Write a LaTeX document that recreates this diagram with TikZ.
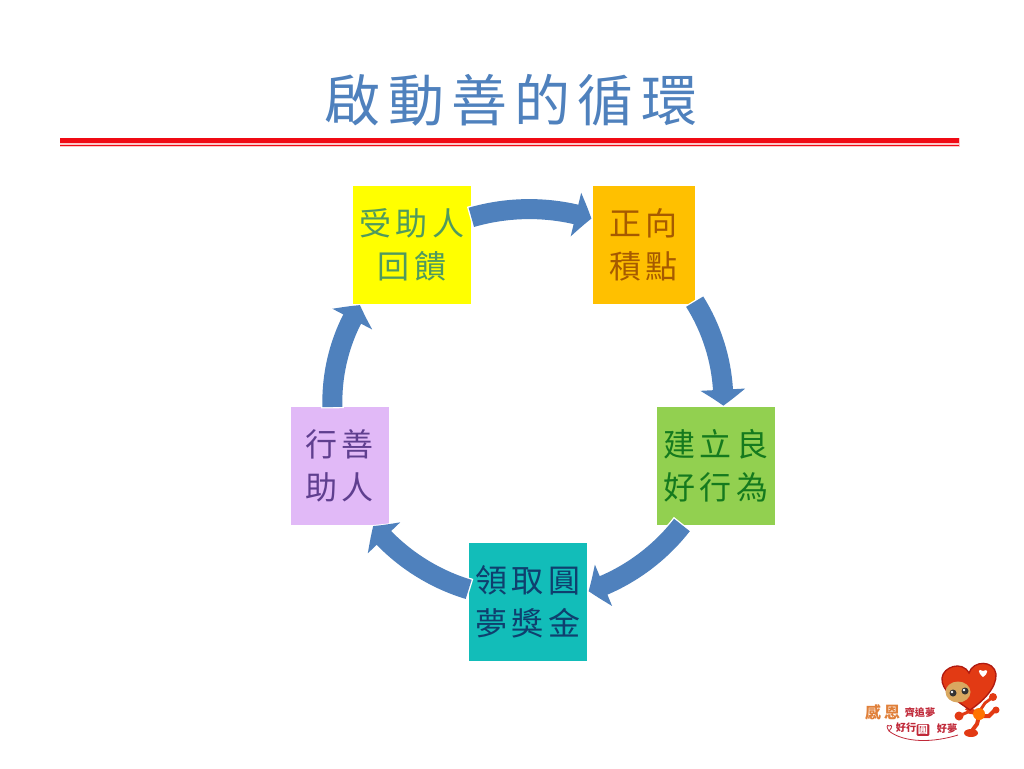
\documentclass[tikz,border=0pt]{standalone}
\usepackage{fontspec}
\usetikzlibrary{positioning,arrows.meta,bending}
\newfontfamily\cjkfont[LetterSpace=13]{Noto Sans CJK TC}
\newfontfamily\logofont{Noto Sans CJK TC}

\definecolor{titleblue}{HTML}{4F81BD}
\definecolor{ruleRed}{HTML}{F00A14}
\definecolor{rulePale}{HTML}{FBC8C8}
\definecolor{cardyellow}{HTML}{FFFF00}
\definecolor{cardorange}{HTML}{FFC000}
\definecolor{cardgreen}{HTML}{92D050}
\definecolor{cardteal}{HTML}{12BDB9}
\definecolor{cardpurple}{HTML}{E1B9F7}
\definecolor{inkyellow}{HTML}{4F9A5E}
\definecolor{inkorange}{HTML}{A65A00}
\definecolor{inkgreen}{HTML}{157A1E}
\definecolor{inkteal}{HTML}{0F3F6E}
\definecolor{inkpurple}{HTML}{5F3F8F}
\definecolor{heartred}{HTML}{E23A14}
\definecolor{heartdark}{HTML}{B01A10}
\definecolor{facetan}{HTML}{D9A860}
\definecolor{logoorange}{HTML}{E0803A}
\definecolor{logored}{HTML}{C02838}

\tikzset{
  card/.style={minimum width=89pt, minimum height=88.5pt, inner sep=0pt, outer sep=0pt, align=center,
    font=\cjkfont\fontsize{24}{32.5}\selectfont},
  flow/.style={draw=titleblue, line width=15pt, shorten >=1pt, bend left=17, looseness=0.87,
    -{Triangle[length=12pt,width=33pt,bend]},
    preaction={draw=white, line width=17pt, shorten >=0pt, shorten <=-1pt,
      -{Triangle[length=14pt,width=37pt,bend]}}},
  logotext/.style={inner sep=0pt, text=logored, font=\logofont\bfseries\fontsize{7.6}{9}\selectfont},
}

\begin{document}
\begin{tikzpicture}[x=0.75pt,y=-0.75pt]
  \useasboundingbox (0,0) rectangle (1024,768);

      % Title and rule
      \node[text=titleblue, inner sep=0pt, font=\cjkfont\fontsize{42}{42}\selectfont] (title) at (511,100) {啟動善的循環};
      \fill[rulePale] (60,137.5) rectangle (959.5,146.5);
      \fill[ruleRed] (60,138.3) rectangle (959,143.3);
      \fill[ruleRed] (60,144.6) rectangle (959,146);

      % Define nodes
      \node[card, fill=cardyellow, text=inkyellow]                                    (recv) at (412,245) {受助人\\回饋};
      \node[card, fill=cardorange, text=inkorange, minimum width=76.5pt, right=91pt of recv]  (points) {正向\\積點};
      \node[card, fill=cardgreen, text=inkgreen, below right=77.25pt and -28.5pt of points]   (habit) {建立良\\好行為};
      \node[card, fill=cardteal, text=inkteal, below left=13.5pt and 52pt of habit]           (claim) {領取圓\\夢獎金};
      \node[card, fill=cardpurple, text=inkpurple, minimum width=73.5pt, above left=13.5pt and 60pt of claim] (help) {行善\\助人};

      % Connect the nodes
      \draw[flow] (recv.25) to (points.153);
      \draw[flow] (points.-48) to (habit.83);
      \draw[flow] (habit.240) to (claim.10);
      \draw[flow] (claim.168) to (help.-61);
      \draw[flow] (help.97) to (recv.229);

      % Logo, mascot
      \draw[heartred, line width=3pt] (966,708) -- (979,714);
      \draw[heartred, line width=2.2pt] (979,712) -- (985,703) -- (993,697);
      \draw[heartred, line width=2.2pt] (979,714) -- (968,712) -- (959,716);
      \draw[heartred, line width=3pt] (981,716) -- (989,716) -- (995,710);
      \draw[heartred, line width=3pt] (979,716) -- (977,724) -- (971,732);
      \fill[heartred, draw=heartdark, line width=1pt] (970,710) .. controls (955,700) and (941,690) .. (942,678)
        .. controls (943,667) and (962,660) .. (969,673) .. controls (973,660) and (994,660) .. (996,674)
        .. controls (997,688) and (982,702) .. (970,710) -- cycle;
      \fill[orange!90!red] (979,714) circle (6);
      \fill[heartred] (993,697) circle (4);
      \fill[heartred] (959,716) circle (4.5);
      \fill[heartred] (996,710) circle (3.5);
      \fill[heartred] (971,733) ellipse (7 and 4);
      \fill[facetan] (958,692) ellipse (12.5 and 10.5);
      \fill[black!80] (953,693) circle (3.5);
      \fill[black!80] (965,691) circle (3.5);
      \fill[white] (952,692) circle (1.3);
      \fill[white] (964,690) circle (1.3);
      \fill[white] (983,677) .. controls (977,672) and (978,668) .. (983,671) .. controls (988,668) and (989,673) .. (983,677) -- cycle;

      % Logo, lettering
      \node[logotext, text=logoorange, font=\logofont\bfseries\fontsize{12}{12}\selectfont] (gan) at (873,712) {感};
      \node[logotext, text=logoorange, font=\logofont\bfseries\fontsize{12}{12}\selectfont] (en) at (892,712) {恩};
      \node[logotext] (chase) at (920,713) {齊追夢};
      \node[logotext] (dolist) at (906,728) {好行};
      \node[logotext, fill=logored, text=white, rounded corners=1pt, inner sep=1pt] (yuan) at (923,730) {圓};
      \node[logotext] (dream) at (947,729) {好夢};
      \draw[logored, line width=0.6pt] (889,731) .. controls (886,727) and (887,724) .. (889,726) .. controls (892,724) and (893,727) .. (889,731)
        .. controls (900,740) and (925,745) .. (958,735);

\end{tikzpicture}
\end{document}
